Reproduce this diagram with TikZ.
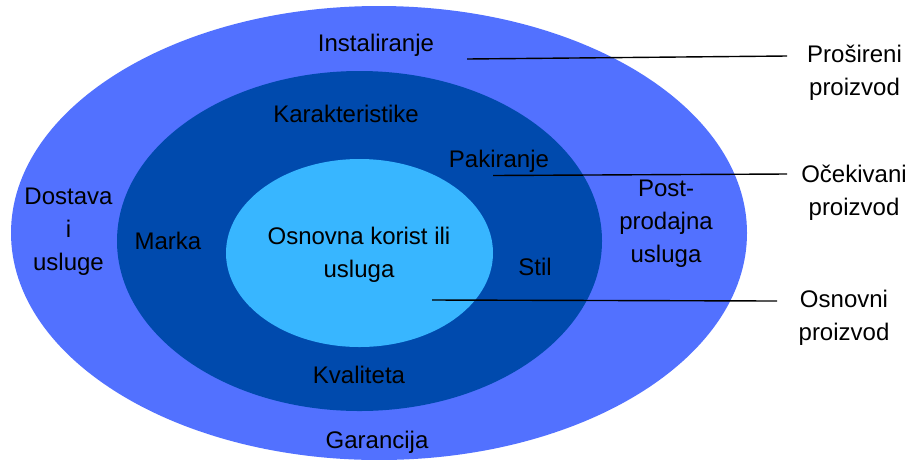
\documentclass[tikz,border=0pt]{standalone}
\usepackage{fontspec}
\setmainfont{Liberation Sans}
\definecolor{outerc}{HTML}{5271FF}
\definecolor{midc}{HTML}{004AAD}
\definecolor{innerc}{HTML}{38B6FF}
\begin{document}
\begin{tikzpicture}[x=1pt,y=-1pt,
  lbl/.style={font=\fontsize{24}{33}\selectfont, text=black, inner sep=0pt, align=center, anchor=base},
  ptr/.style={draw=black, line width=1.4pt}]
\useasboundingbox (0,0) rectangle (909,459);
\fill[white] (0,0) rectangle (909,459);
\fill[outerc] (379,233) ellipse [x radius=368, y radius=227];
\fill[midc] (359.5,241) ellipse [x radius=242.5, y radius=170];
\fill[innerc] (359.5,253) ellipse [x radius=133.5, y radius=94];
% outer ring labels (base = baseline of last line)
\node[lbl] (inst) at (376,51) {Instaliranje};
\node[lbl] (dost) at (68.5,270) {Dostava\\i\\usluge};
\node[lbl] (post) at (666,262) {Post-\\prodajna\\usluga};
\node[lbl] (gar) at (377,448) {Garancija};
% middle ring labels
\node[lbl] (kar) at (346,122) {Karakteristike};
\node[lbl] (pak) at (499,167) {Pakiranje};
\node[lbl] (mar) at (168,249) {Marka};
\node[lbl] (stil) at (535,275) {Stil};
\node[lbl] (kval) at (359,383) {Kvaliteta};
% core
\node[lbl] (core) at (359,277) {Osnovna korist ili\\usluga};
% right labels
\node[lbl] (pros) at (854.5,95.5) {Prošireni\\proizvod};
\node[lbl] (ocek) at (854,215) {Očekivani\\proizvod};
\node[lbl] (osn) at (844,340) {Osnovni\\proizvod};
% pointer lines
\coordinate (p1a) at (467,59);
\coordinate (p1b) at (787,56);
\coordinate (p2a) at (493,175.5);
\coordinate (p2b) at (787,174);
\coordinate (p3a) at (432,300);
\coordinate (p3b) at (777,301);
\draw[ptr] (p1a) -- (p1b);
\draw[ptr] (p2a) -- (p2b);
\draw[ptr] (p3a) -- (p3b);
\end{tikzpicture}
\end{document}
